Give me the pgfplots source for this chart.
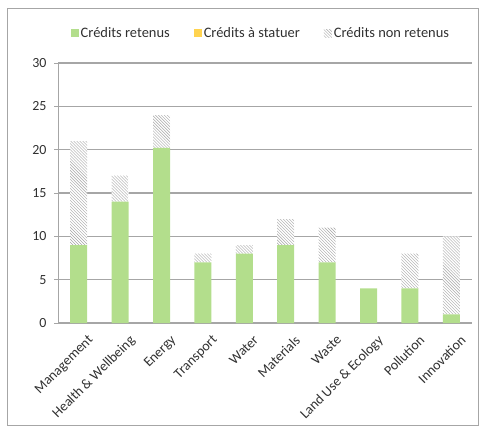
\documentclass[border=0pt]{standalone}
\usepackage{pgfplots}
\pgfplotsset{compat=1.18}
\usepackage{fontspec}
\setmainfont{Carlito}
\usetikzlibrary{patterns}
\definecolor{vert}{HTML}{B3DE8C}
\definecolor{jaune}{HTML}{FFD34F}
\definecolor{grille}{HTML}{A6A6A6}
\definecolor{texte}{HTML}{303030}
\begin{document}
\begin{tikzpicture}[x=1bp,y=1bp]
\useasboundingbox (-58,-109) rectangle (428,323);
\draw[grille, line width=1bp] (-50,-102) rectangle (420,315);
\begin{axis}[
  at={(0,0)}, anchor=south west,
  scale only axis, width=414bp, height=260bp,
  ybar stacked, bar width=17bp,
  xmin=-0.5, xmax=9.5, ymin=0, ymax=30,
  /pgf/number format/assume math mode=true,
  xtick={0,...,9},
  xticklabels={Management,Health \& Wellbeing,Energy,Transport,Water,Materials,Waste,Land Use \& Ecology,Pollution,Innovation},
  x tick label style={rotate=45, anchor=north east, inner sep=1pt, xshift=2bp, yshift=-10bp, font=\fontsize{14}{16}\selectfont, text=texte},
  y tick label style={xshift=-4bp, font=\fontsize{14}{16}\selectfont, text=texte},
  x tick style={draw=none},
  minor xtick={-0.5,0.5,...,9.5},
  minor x tick style={grille, line width=1bp},
  ytick={0,5,...,30},
  y tick style={grille, line width=1bp},
  tick align=outside, major tick length=4bp, minor tick length=4bp,
  axis x line*=bottom, axis y line*=left,
  axis line style={grille, line width=1bp, -},
  ymajorgrids, grid style={grille, line width=1.3bp},
  legend style={at={(0.49,1.115)}, anchor=center, draw=none, fill=none,
    legend columns=3, font=\fontsize{14.5}{17}\selectfont, text=texte,
    /tikz/column sep=0bp, /tikz/inner sep=1.5bp},
  legend image code/.code={\fill[#1] (0bp,-4bp) rectangle (8bp,4bp);},
]
\addplot[fill=vert, draw=none] coordinates {(0,9) (1,14) (2,20.2) (3,7) (4,8) (5,9) (6,7) (7,4) (8,4) (9,1)};
\addlegendentry{Crédits retenus\rule{22bp}{0bp}}
\addplot[fill=jaune, draw=none] coordinates {(0,0) (1,0) (2,0) (3,0) (4,0) (5,0) (6,0) (7,0) (8,0) (9,0)};
\addlegendentry{Crédits à statuer\rule{22bp}{0bp}}
\addplot[fill=white, postaction={pattern=north west lines, pattern color=gray!70}, draw=none] coordinates {(0,12) (1,3) (2,3.8) (3,1) (4,1) (5,3) (6,4) (7,0) (8,4) (9,9)};
\addlegendentry{Crédits non retenus}
\end{axis}
\end{tikzpicture}
\end{document}
